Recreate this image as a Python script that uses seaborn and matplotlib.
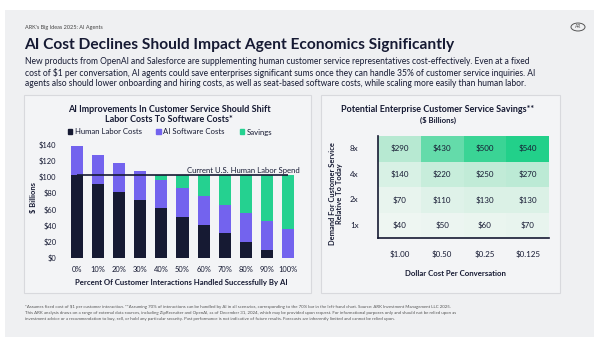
import numpy as np
import pandas as pd
import seaborn as sns
import matplotlib
matplotlib.use("Agg")
import matplotlib.pyplot as plt
from matplotlib.patches import Rectangle, Patch, Circle
from matplotlib.colors import LinearSegmentedColormap

# ---------------- data ----------------
pct_labels = ["0%", "10%", "20%", "30%", "40%", "50%", "60%", "70%", "80%", "90%", "100%"]
human_labor = [101.6, 91.4, 81.3, 71.1, 61.0, 50.8, 40.6, 30.5, 20.3, 10.2, 0.0]
ai_software = [36.4, 36.0, 36.0, 35.5, 35.0, 35.3, 35.3, 35.2, 35.2, 35.1, 35.1]
savings = [0.0, 0.0, 0.0, 0.0, 5.6, 15.5, 25.7, 35.9, 46.1, 56.3, 66.5]
labor_spend = 101.6
y_ticks = [0, 20, 40, 60, 80, 100, 120, 140]

demand_rows = ["8x", "4x", "2x", "1x"]
cost_cols = ["$1.00", "$0.50", "$0.25", "$0.125"]
savings_8x = [290, 430, 500, 540]
savings_4x = [140, 220, 250, 270]
savings_2x = [70, 110, 130, 130]
savings_1x = [40, 50, 60, 70]

# ---------------- style ----------------
sns.set_theme(style="white")
plt.rcParams["font.family"] = ["Lato", "DejaVu Sans"]

NAVY = "#161a33"
PURPLE = "#7363ee"
GREEN = "#25d190"
BG = "#eff0f2"
PANEL = "#f3f4f6"
BORDER = "#d8d9dd"

W, H = 600, 341
fig = plt.figure(figsize=(6, 3.41), dpi=100)
fig.patch.set_facecolor("white")

def fx(x):
    return x / W

def fy(y):
    return 1 - y / H

def add_rect(x0, y0, x1, y1, fc, ec="none", lw=0.8):
    fig.patches.append(Rectangle((fx(x0), fy(y1)), fx(x1) - fx(x0), fy(y0) - fy(y1),
                                 transform=fig.transFigure, facecolor=fc, edgecolor=ec,
                                 linewidth=lw, zorder=-10))

# slide background and panels
add_rect(5, 10, 594, 337, BG)
add_rect(24, 95, 311, 293, PANEL, BORDER)
add_rect(321, 95, 560, 293, PANEL, BORDER)

# header texts
fig.text(fx(25), fy(27), "ARK's Big Ideas 2025: AI Agents", fontsize=4, color="#444", va="center")
fig.text(fx(24), fy(45), "AI Cost Declines Should Impact Agent Economics Significantly",
         fontsize=11.2, fontweight="bold", color=NAVY, va="center")
para = ["New products from OpenAI and Salesforce are supplementing human customer service representatives cost-effectively. Even at a fixed",
        "cost of $1 per conversation, AI agents could save enterprises significant sums once they can handle 35% of customer service inquiries. AI",
        "agents also should lower onboarding and hiring costs, as well as seat-based software costs, while scaling more easily than human labor."]
for i, line in enumerate(para):
    fig.text(fx(25), fy(62 + i * 10.7), line, fontsize=6.15, color=NAVY, va="center")
# logo
fig.patches.append(Circle((fx(578), fy(27)), 7 / W, transform=fig.transFigure,
                          facecolor="none", edgecolor="#555", linewidth=0.7))
fig.text(fx(578), fy(27), "AR", fontsize=3.5, ha="center", va="center", color="#555")

# ---------------- left: stacked bars ----------------
axL = fig.add_axes([fx(62), fy(258), fx(300) - fx(62), fy(140) - fy(258)])
axL.set_facecolor("none")
df = pd.DataFrame({"pct": pct_labels, "human": human_labor, "ai": ai_software, "sav": savings})
df["top_ai"] = df["human"] + df["ai"]
df["top_all"] = df["top_ai"] + df["sav"]
bw = 0.57
sns.barplot(data=df, x="pct", y="top_all", color=GREEN, width=bw, ax=axL, saturation=1, order=pct_labels)
sns.barplot(data=df, x="pct", y="top_ai", color=PURPLE, width=bw, ax=axL, saturation=1, order=pct_labels)
sns.barplot(data=df, x="pct", y="human", color=NAVY, width=bw, ax=axL, saturation=1, order=pct_labels)
for p in axL.patches:
    p.set_linewidth(0)
axL.hlines(labor_spend, 0, 10, color=NAVY, linewidth=1.2, zorder=5)
axL.text(10.55, labor_spend + 2.2, "Current U.S. Human Labor Spend", ha="right", va="bottom",
         fontsize=5.6, color=NAVY)
axL.set_xlim(-0.7, 10.56)
axL.set_ylim(0, 145.3)
axL.set_yticks(y_ticks)
axL.set_yticklabels([f"${v}" for v in y_ticks])
axL.tick_params(axis="both", labelsize=5.4, colors=NAVY, length=0)
axL.tick_params(axis="y", pad=4)
axL.tick_params(axis="x", pad=6)
axL.set_xlabel("Percent Of Customer Interactions Handled Successfully By AI",
               fontsize=5.6, fontweight="bold", color=NAVY, labelpad=4)
axL.set_ylabel("")
fig.text(fx(33), fy(198), "$ Billions", rotation=90, fontsize=5.4, fontweight="bold",
         color=NAVY, ha="center", va="center")
for s in axL.spines.values():
    s.set_visible(False)

fig.text(fx(169), fy(110), "AI Improvements In Customer Service Should Shift",
         fontsize=6.5, fontweight="bold", color=NAVY, ha="center", va="center")
fig.text(fx(169), fy(119.5), "Labor Costs To Software Costs*",
         fontsize=6.5, fontweight="bold", color=NAVY, ha="center", va="center")
handles = [Patch(color=NAVY, label="Human Labor Costs"),
           Patch(color=PURPLE, label="AI Software Costs"),
           Patch(color=GREEN, label="Savings")]
fig.legend(handles=handles, loc="center", bbox_to_anchor=(fx(170), fy(132)), ncol=3,
           frameon=False, fontsize=5.6, handlelength=0.6, handleheight=0.6,
           handletextpad=0.3, columnspacing=1.9, labelcolor=NAVY)

# ---------------- right: heatmap ----------------
axR = fig.add_axes([fx(378), fy(238), fx(549) - fx(378), fy(136) - fy(238)])
mat = pd.DataFrame([savings_8x, savings_4x, savings_2x, savings_1x],
                   index=demand_rows, columns=cost_cols)
cmap = LinearSegmentedColormap.from_list("grn", ["#eef6f2", "#b8e9d2", "#22d08a"])
annot = mat.map(lambda v: f"${v}")
sns.heatmap(mat, ax=axR, cmap=cmap, vmin=40, vmax=540, cbar=False, annot=annot, fmt="",
            annot_kws={"fontsize": 5.8, "color": NAVY}, linewidths=0)
axR.tick_params(axis="both", length=0, labelsize=5.8, colors=NAVY)
axR.tick_params(axis="y", pad=14, rotation=0)
axR.tick_params(axis="x", pad=9, rotation=0)
axR.set_xlabel("")
axR.set_ylabel("")
for side in ["left", "bottom"]:
    axR.spines[side].set_visible(True)
    axR.spines[side].set_color(NAVY)
    axR.spines[side].set_linewidth(1.2)
fig.text(fx(438), fy(110), "Potential Enterprise Customer Service Savings**",
         fontsize=6.5, fontweight="bold", color=NAVY, ha="center", va="center")
fig.text(fx(438), fy(120), "($ Billions)", fontsize=5.6, fontweight="bold", color=NAVY,
         ha="center", va="center")
fig.text(fx(455), fy(274), "Dollar Cost Per Conversation", fontsize=5.6, fontweight="bold",
         color=NAVY, ha="center", va="center")
fig.text(fx(336), fy(194), "Demand For Customer Service\nRelative To Today", rotation=90,
         fontsize=5.4, fontweight="bold", color=NAVY, ha="center", va="center", linespacing=1.0)

# ---------------- footnote ----------------
foot = ["*Assumes fixed cost of $1 per customer interaction. **Assuming 70% of interactions can be handled by AI in all scenarios, corresponding to the 70% bar in the left-hand chart. Source: ARK Investment Management LLC 2025.",
        "This ARK analysis draws on a range of external data sources, including ZipRecruiter and OpenAI, as of December 31, 2024, which may be provided upon request. For informational purposes only and should not be relied upon as",
        "investment advice or a recommendation to buy, sell, or hold any particular security. Past performance is not indicative of future results. Forecasts are inherently limited and cannot be relied upon."]
for i, line in enumerate(foot):
    fig.text(fx(25), fy(307.3 + i * 5.8), line, fontsize=3.2, color="#555", va="center")

fig.savefig("out.png", dpi=100, facecolor=fig.get_facecolor())
